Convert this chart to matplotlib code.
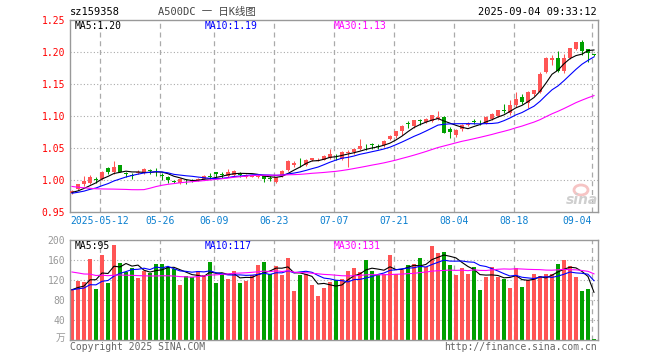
import numpy as np
import pandas as pd
import matplotlib
matplotlib.use('Agg')
import matplotlib.pyplot as plt
from matplotlib.patches import Ellipse

# daily K-line data, 2025-04-30 .. 2025-09-04 (88 sessions)
opens = [0.980, 0.986, 0.993, 0.995, 1.001, 1.002, 1.018, 1.012, 1.024, 1.010,
         1.008, 1.011, 1.011, 1.015, 1.013, 1.008, 1.004, 0.999, 0.995, 0.999,
         1.000, 0.999, 1.002, 1.006, 1.012, 1.009, 1.007, 1.008, 1.009, 1.004,
         1.005, 1.004, 1.006, 1.003, 0.997, 1.006, 1.015, 1.024, 1.027, 1.024,
         1.032, 1.030, 1.032, 1.035, 1.038, 1.033, 1.042, 1.043, 1.048, 1.052,
         1.056, 1.053, 1.054, 1.064, 1.068, 1.077, 1.089, 1.085, 1.093, 1.091,
         1.092, 1.095, 1.099, 1.079, 1.071, 1.079, 1.086, 1.092, 1.091, 1.089,
         1.095, 1.100, 1.109, 1.104, 1.117, 1.130, 1.121, 1.134, 1.138, 1.169,
         1.187, 1.190, 1.170, 1.191, 1.205, 1.215, 1.204, 1.196]
highs = [0.985, 0.994, 1.006, 1.008, 1.004, 1.014, 1.020, 1.029, 1.024, 1.013,
         1.011, 1.015, 1.019, 1.017, 1.019, 1.011, 1.006, 1.000, 1.003, 1.001,
         1.001, 1.003, 1.008, 1.011, 1.013, 1.012, 1.017, 1.015, 1.012, 1.009,
         1.008, 1.009, 1.007, 1.006, 1.005, 1.016, 1.031, 1.030, 1.034, 1.033,
         1.035, 1.034, 1.039, 1.049, 1.041, 1.045, 1.047, 1.050, 1.064, 1.056,
         1.058, 1.057, 1.062, 1.071, 1.077, 1.086, 1.092, 1.094, 1.096, 1.097,
         1.102, 1.108, 1.100, 1.083, 1.079, 1.087, 1.090, 1.095, 1.094, 1.100,
         1.104, 1.110, 1.119, 1.125, 1.138, 1.134, 1.139, 1.141, 1.168, 1.192,
         1.195, 1.201, 1.197, 1.207, 1.216, 1.219, 1.205, 1.197]
lows = [0.978, 0.984, 0.991, 0.994, 0.996, 1.000, 1.010, 1.010, 1.012, 1.004,
        1.001, 1.010, 1.010, 1.009, 1.006, 1.000, 0.995, 0.996, 0.994, 0.993,
        0.997, 0.998, 1.001, 1.002, 1.005, 1.003, 1.005, 1.007, 1.004, 1.003,
        1.004, 1.003, 0.997, 0.998, 0.995, 1.004, 1.014, 1.021, 1.021, 1.022,
        1.030, 1.029, 1.031, 1.033, 1.032, 1.032, 1.020, 1.041, 1.047, 1.047,
        1.049, 1.048, 1.052, 1.062, 1.066, 1.071, 1.081, 1.082, 1.086, 1.089,
        1.090, 1.093, 1.073, 1.066, 1.067, 1.077, 1.084, 1.088, 1.086, 1.087,
        1.093, 1.098, 1.104, 1.102, 1.114, 1.119, 1.113, 1.132, 1.136, 1.167,
        1.179, 1.168, 1.167, 1.189, 1.203, 1.196, 1.184, 1.193]
closes = [0.983, 0.993, 0.998, 1.004, 1.000, 1.013, 1.013, 1.021, 1.013, 1.009,
          1.007, 1.013, 1.017, 1.014, 1.012, 1.006, 1.000, 0.997, 1.002, 0.998,
          0.999, 1.001, 1.006, 1.005, 1.009, 1.008, 1.013, 1.014, 1.008, 1.008,
          1.007, 1.007, 1.001, 1.002, 1.004, 1.014, 1.030, 1.027, 1.026, 1.032,
          1.034, 1.032, 1.038, 1.041, 1.037, 1.044, 1.043, 1.048, 1.053, 1.051,
          1.055, 1.052, 1.061, 1.069, 1.076, 1.085, 1.087, 1.093, 1.092, 1.095,
          1.101, 1.099, 1.074, 1.075, 1.078, 1.086, 1.088, 1.091, 1.090, 1.099,
          1.103, 1.109, 1.108, 1.117, 1.127, 1.122, 1.138, 1.140, 1.166, 1.191,
          1.191, 1.170, 1.190, 1.206, 1.215, 1.202, 1.198, 1.195]
volumes = [103, 119, 117, 162, 102, 170, 114, 190, 154, 137,
           144, 124, 139, 135, 152, 152, 146, 142, 111, 128,
           127, 138, 131, 157, 114, 132, 122, 139, 114, 119,
           131, 151, 157, 132, 148, 130, 164, 98, 131, 133,
           110, 88, 104, 117, 120, 122, 139, 144, 136, 160,
           139, 130, 133, 170, 132, 141, 151, 153, 164, 147,
           189, 174, 176, 151, 131, 144, 133, 146, 100, 126,
           146, 127, 123, 104, 144, 106, 120, 133, 129, 133,
           133, 153, 160, 149, 126, 98, 102, 2]

# sessions before the window, only feed the moving averages
pre_close = [1.030, 1.025, 1.028, 1.022, 1.020, 1.018, 1.024, 1.021, 1.016, 1.019,
             1.015, 1.012, 0.948, 0.935, 0.945, 0.955, 0.962, 0.965, 0.970, 0.975,
             0.978, 0.980, 0.976, 0.979, 0.977, 0.981, 0.979, 0.982, 0.978]
pre_vol = [175, 180, 170, 185, 150, 145, 160, 140, 155, 148,
           142, 150, 145, 152, 140, 148, 155, 146, 143, 148,
           98, 102, 95, 105, 100, 97, 103, 99, 101]

tick_idx = [5, 15, 24, 34, 44, 54, 64, 74, 87]
tick_lab = ['2025-05-12', '05-26', '06-09', '06-23', '07-07', '07-21', '08-04', '08-18', '09-04']
price_ticks = [0.95, 1.00, 1.05, 1.10, 1.15, 1.20, 1.25]
vol_ticks = [40, 80, 120, 160, 200]
price_legend = ['MA5:1.20', 'MA10:1.19', 'MA30:1.13']
vol_legend = ['MA5:95', 'MA10:117', 'MA30:131']

W, H = 660, 360
RED = '#ff5555'
GREEN = '#00a000'
MA_COLS = ['black', '#0000ff', '#ff00ff']
GRID = '#aaaaaa'
MONO = 'DejaVu Sans Mono'

plt.rcParams['font.family'] = [MONO, 'Noto Sans CJK SC']

o = np.array(opens); c = np.array(closes)
hi = np.array(highs); lo = np.array(lows); v = np.array(volumes, dtype=float)
n = len(c)
x = np.arange(n)
col = np.where(c >= o, RED, GREEN)

def ma(pre, vals, k):
    s = pd.Series(list(pre) + list(vals))
    return s.rolling(k, min_periods=1).mean().values[-len(vals):]

fig = plt.figure(figsize=(6.6, 3.6), dpi=100)
ax = fig.add_axes([70 / W, 1 - 212 / H, 528 / W, 192 / H])
axv = fig.add_axes([70 / W, 1 - 340 / H, 528 / W, 100 / H])

for a in (ax, axv):
    a.set_xlim(-0.33, n - 0.33)
    for s in a.spines.values():
        s.set_color('#999999')
        s.set_linewidth(1.0)
    a.tick_params(length=0)
    a.set_xticks([])
    for t in tick_idx:
        a.axvline(t - 0.3, color=GRID, lw=0.9, ls=(0, (4, 3)), zorder=0)

# price panel
ax.set_ylim(0.95, 1.25)
for p in price_ticks[1:-1]:
    ax.axhline(p, color=GRID, lw=0.8, ls=(0, (1, 2)), zorder=0)
ax.set_yticks(price_ticks)
ax.set_yticklabels(['%.2f' % p for p in price_ticks], color='red', fontsize=7)
ax.tick_params(axis='y', pad=3.5)

ax.vlines(x, lo, hi, colors=col, lw=0.75, zorder=2)
body = np.maximum(np.abs(c - o), 0.0012)
ax.bar(x, body, bottom=np.minimum(o, c), width=0.78, color=col, linewidth=0, zorder=3)
for k, mc in zip([5, 10, 30], MA_COLS):
    ax.plot(x, ma(pre_close, c, k), color=mc, lw=0.8, zorder=4)

for t, lab in zip(tick_idx, tick_lab):
    ha = 'right' if t == tick_idx[-1] else 'center'
    ax.text(t - 0.3, -0.047, lab, transform=ax.get_xaxis_transform(), ha=ha, va='center',
            color='#0a7fcf', fontsize=7)

# sina watermark
ax.add_patch(Ellipse((581 / W, 1 - 190 / H), 14 / W, 10 / H, transform=fig.transFigure,
                     facecolor='none', edgecolor='#f6c4c4', lw=2.0, zorder=1))
fig.text(582 / W, 1 - 200 / H, 'sina', ha='center', va='center', fontsize=10,
         color='#cfcfcf', style='italic', weight='bold', family='DejaVu Sans')

# volume panel
axv.set_ylim(0, 200)
for p in vol_ticks[:-1]:
    axv.axhline(p, color=GRID, lw=0.8, ls=(0, (1, 2)), zorder=0)
axv.set_yticks(vol_ticks)
axv.set_yticklabels([str(p) for p in vol_ticks], color='#999999', fontsize=7)
axv.tick_params(axis='y', pad=3.5)
axv.bar(x, v, width=0.8, color=col, linewidth=0, zorder=2)
for k, mc in zip([5, 10, 30], MA_COLS):
    axv.plot(x, ma(pre_vol, v, k), color=mc, lw=0.8, zorder=3)
fig.text(65 / W, 1 - 338 / H, '万', ha='right', va='center', fontsize=7, color='#999999')

# legends
for lab, mc, px in zip(price_legend, MA_COLS, [75, 205, 334]):
    fig.text(px / W, 1 - 26 / H, lab, ha='left', va='center', fontsize=7, color=mc)
for lab, mc, px in zip(vol_legend, MA_COLS, [75, 205, 334]):
    fig.text(px / W, 1 - 246 / H, lab, ha='left', va='center', fontsize=7, color=mc)

# header / footer
fig.text(70 / W, 1 - 12 / H, 'sz159358', ha='left', va='center', fontsize=7.5, color='black')
fig.text(207 / W, 1 - 12 / H, 'A500DC 一 日K线图', ha='center', va='center', fontsize=7.5,
         color='#444444')
fig.text(597 / W, 1 - 12 / H, '2025-09-04 09:33:12', ha='right', va='center', fontsize=7.5,
         color='black')
fig.text(70 / W, 1 - 347 / H, 'Copyright 2025 SINA.COM', ha='left', va='center', fontsize=7,
         color='#666666')
fig.text(597 / W, 1 - 347 / H, 'http://finance.sina.com.cn', ha='right', va='center',
         fontsize=7, color='#666666')

fig.savefig('out.png', dpi=100, facecolor='white')
